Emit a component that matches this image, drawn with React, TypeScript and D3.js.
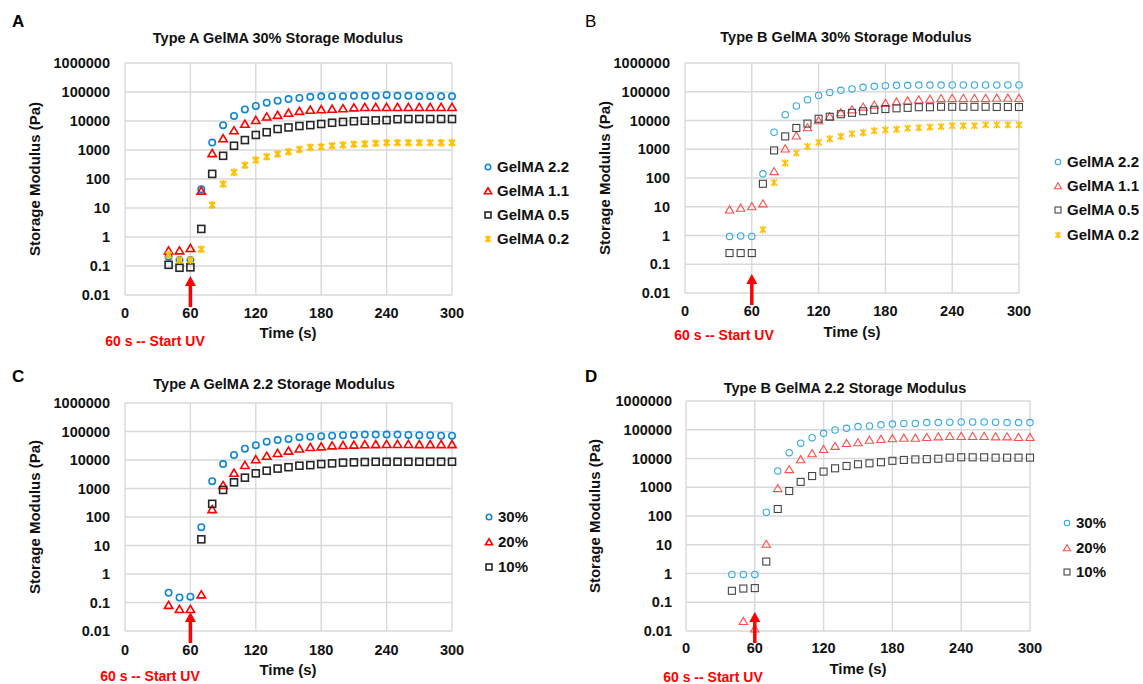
import * as d3 from 'd3';

// sampling times (s)
const times = [40, 50, 60, 70, 80, 90, 100, 110, 120, 130, 140, 150, 160, 170, 180, 190, 200, 210, 220, 230, 240, 250, 260, 270, 280, 290, 300];
const xTicks = [0, 60, 120, 180, 240, 300];
const yTicks = [0.01, 0.1, 1, 10, 100, 1000, 10000, 100000, 1000000];

const gelLabels = ['GelMA 2.2', 'GelMA 1.1', 'GelMA 0.5', 'GelMA 0.2'];
const pctLabels = ['30%', '20%', '10%'];

// A: Type A GelMA 30%
const aGel22 = [0.21, 0.16, 0.16, 44, 1800, 7200, 15000, 25000, 33000, 43000, 50000, 57000, 62000, 68000, 71000, 72000, 72000, 74000, 74000, 74000, 79000, 74000, 74000, 71000, 71000, 71000, 71000];
const aGel11 = [0.34, 0.34, 0.41, 39, 770, 2500, 4700, 7900, 10700, 14000, 16000, 19000, 22000, 24000, 25000, 26000, 27000, 29000, 30000, 30000, 30000, 30000, 30000, 30000, 30000, 30000, 30000];
const aGel05 = [0.11, 0.087, 0.09, 1.9, 150, 630, 1400, 2200, 3300, 4100, 5300, 6000, 6700, 7200, 7900, 8700, 9300, 9800, 10200, 10500, 10700, 11500, 11700, 11700, 11700, 11700, 11700];
const aGel02 = [0.24, 0.16, 0.16, 0.38, 12.6, 67, 170, 300, 450, 590, 730, 870, 1050, 1230, 1290, 1400, 1480, 1580, 1620, 1700, 1780, 1780, 1780, 1780, 1780, 1780, 1780];

// B: Type B GelMA 30%
const bGel22 = [0.93, 0.97, 0.93, 140, 3900, 16000, 32000, 53000, 74000, 95000, 112000, 125000, 142000, 154000, 162000, 167000, 167000, 170000, 170000, 170000, 172000, 172000, 172000, 172000, 172000, 172000, 172000];
const bGel11 = [7.9, 9.1, 10.3, 12.9, 170, 1050, 2960, 5700, 10000, 13800, 19000, 24000, 30000, 35000, 40000, 45000, 49000, 53000, 56000, 59000, 60000, 60000, 60000, 60000, 61000, 61000, 60000];
const bGel05 = [0.245, 0.245, 0.245, 63, 910, 2800, 5500, 7800, 11500, 13500, 16500, 18500, 21000, 23500, 25000, 26500, 27500, 29000, 29000, 30000, 30000, 30000, 30000, 30000, 29500, 29500, 29500];
const bGel02 = [null, null, null, 1.6, 69, 330, 740, 1250, 1740, 2300, 2800, 3450, 3800, 4400, 4700, 4900, 5400, 5600, 5900, 6200, 6600, 6600, 6600, 7100, 7100, 7100, 7100];

// C: Type A GelMA 2.2
const c30 = [0.22, 0.15, 0.16, 44, 1800, 7200, 15000, 25000, 33000, 44000, 50000, 55000, 63000, 66000, 68000, 71000, 74000, 76000, 78000, 78000, 78000, 78000, 76000, 74000, 74000, 71000, 71000];
const c20 = [0.081, 0.058, 0.058, 0.19, 186, 1300, 3500, 6600, 10500, 13800, 17400, 21000, 25000, 28000, 29500, 32000, 33000, 34000, 35000, 35500, 36000, 36000, 36000, 35500, 35500, 35500, 35500];
const c10 = [null, null, null, 16.5, 290, 890, 1650, 2400, 3400, 4200, 5000, 5600, 6300, 6600, 7200, 7600, 8100, 8300, 8500, 8700, 8700, 8700, 8700, 8700, 8700, 8700, 8700];

// D: Type B GelMA 2.2
const d30 = [0.93, 0.93, 0.93, 135, 3700, 16000, 34000, 53000, 75000, 98000, 112000, 129000, 135000, 148000, 158000, 166000, 166000, 178000, 178000, 182000, 186000, 186000, 186000, 182000, 178000, 178000, 178000];
const d20 = [null, 0.022, 0.012, 10.6, 920, 4200, 9300, 15000, 21000, 27000, 34000, 36000, 44000, 47000, 50000, 52000, 52000, 55000, 58000, 60000, 60000, 60000, 60000, 58000, 58000, 55000, 55000];
const d10 = [0.25, 0.3, 0.31, 2.6, 175, 740, 1540, 2450, 3500, 4550, 5500, 6300, 6800, 7400, 8300, 8900, 9300, 9500, 9800, 10700, 11000, 11000, 11000, 10700, 10700, 10700, 10700];

const FONT = '"Liberation Sans", Arial, sans-serif';
const shapes = ['circle', 'triangle', 'square', 'asterisk'];

const darkStyle = { colors: ['#0f86d3', '#ff0000', '#262626', '#ffc000'], sw: 1.6 };
const lightStyle = { colors: ['#35a9e0', '#ff4d4d', '#444444', '#ffc000'], sw: 1.1 };

const panels = [
  {
    letter: 'A', bold: true, title: 'Type A GelMA 30% Storage Modulus', titleX: 278, titleY: 43,
    box: { l: 125, r: 452, t: 63, b: 295 }, yTitleX: 35, tickRight: 110, xLabY: 318,
    timeX: 288, timeY: 338, uvX: 155, uvY: 346, letterX: 12, letterY: 27,
    legX: 488, legY: [167, 191, 215, 239], labels: gelLabels, series: [aGel22, aGel11, aGel05, aGel02], style: darkStyle,
  },
  {
    letter: 'B', bold: false, title: 'Type B GelMA 30% Storage Modulus', titleX: 846, titleY: 42,
    box: { l: 685, r: 1019, t: 63, b: 293 }, yTitleX: 605, tickRight: 670, xLabY: 316,
    timeX: 852, timeY: 337, uvX: 724, uvY: 340, letterX: 585, letterY: 27,
    legX: 1058, legY: [162, 186, 210, 235], labels: gelLabels, series: [bGel22, bGel11, bGel05, bGel02], style: lightStyle,
  },
  {
    letter: 'C', bold: true, title: 'Type A GelMA 2.2 Storage Modulus', titleX: 274, titleY: 389,
    box: { l: 125, r: 452, t: 403, b: 631 }, yTitleX: 35, tickRight: 110, xLabY: 655,
    timeX: 288, timeY: 675, uvX: 150, uvY: 681, letterX: 12, letterY: 382,
    legX: 489, legY: [517, 542, 567], labels: pctLabels, series: [c30, c20, c10], style: darkStyle,
  },
  {
    letter: 'D', bold: true, title: 'Type B GelMA 2.2 Storage Modulus', titleX: 845, titleY: 393,
    box: { l: 686, r: 1030, t: 401, b: 631 }, yTitleX: 595, tickRight: 672, xLabY: 653,
    timeX: 858, timeY: 674, uvX: 713, uvY: 682, letterX: 585, letterY: 382,
    legX: 1067, legY: [523, 548, 572], labels: pctLabels, series: [d30, d20, d10], style: lightStyle,
  },
];

function Marker({ shape, x, y, color, sw, s = 1 }) {
  if (shape === 'circle') {
    return <circle cx={x} cy={y} r={3.2 * s} fill="none" stroke={color} strokeWidth={sw} />;
  }
  if (shape === 'triangle') {
    const p = `M${x},${y - 3.8 * s}L${x + 4.2 * s},${y + 3.3 * s}L${x - 4.2 * s},${y + 3.3 * s}Z`;
    return <path d={p} fill="none" stroke={color} strokeWidth={sw} strokeLinejoin="miter" />;
  }
  if (shape === 'square') {
    const h = 3.5 * s;
    return <rect x={x - h} y={y - h} width={2 * h} height={2 * h} fill="none" stroke={color} strokeWidth={sw} />;
  }
  const r = 3.8 * s;
  const d = `M${x},${y - r}L${x},${y + r}M${x - r * 0.8},${y - r * 0.8}L${x + r * 0.8},${y + r * 0.8}M${x - r * 0.8},${y + r * 0.8}L${x + r * 0.8},${y - r * 0.8}`;
  return <path d={d} fill="none" stroke={color} strokeWidth={sw + 0.4} />;
}

function Panel({ p }) {
  const { box } = p;
  const x = d3.scaleLinear().domain([0, 300]).range([box.l, box.r]);
  const y = d3.scaleLog().domain([0.01, 1000000]).range([box.b, box.t]);
  const ax = x(60);
  const tipY = box.b - 19;
  const endY = box.b + 12;
  return (
    <g fontFamily={FONT}>
      <text x={p.letterX} y={p.letterY} fontSize={17} fontWeight={p.bold ? 'bold' : 'normal'} fill="#000">{p.letter}</text>
      <text x={p.titleX} y={p.titleY} textAnchor="middle" fontSize={14.5} fontWeight="bold" fill="#111">{p.title}</text>
      {xTicks.map(t => (
        <line key={'gx' + t} x1={x(t)} x2={x(t)} y1={box.t} y2={box.b} stroke="#d9d9d9" strokeWidth={1.4} />
      ))}
      {yTicks.map(t => (
        <line key={'gy' + t} x1={box.l} x2={box.r} y1={y(t)} y2={y(t)} stroke="#d9d9d9" strokeWidth={1.4} />
      ))}
      {yTicks.map(t => (
        <text key={'ty' + t} x={p.tickRight} y={y(t)} dy="0.36em" textAnchor="end" fontSize={14.5} fontWeight="bold" fill="#111">{String(t)}</text>
      ))}
      {xTicks.map(t => (
        <text key={'tx' + t} x={x(t)} y={p.xLabY} textAnchor="middle" fontSize={14.5} fontWeight="bold" fill="#111">{t}</text>
      ))}
      <text transform={`translate(${p.yTitleX},${(box.t + box.b) / 2}) rotate(-90)`} textAnchor="middle" dy="0.36em" fontSize={15} fontWeight="bold" fill="#111">Storage Modulus (Pa)</text>
      <text x={p.timeX} y={p.timeY} textAnchor="middle" fontSize={15} fontWeight="bold" fill="#111">Time (s)</text>
      <text x={p.uvX} y={p.uvY} textAnchor="middle" fontSize={14} fontWeight="bold" fill="#ff0000">60 s -- Start UV</text>
      {p.series.map((vals, si) => (
        <g key={'s' + si}>
          {vals.map((v, i) => v == null ? null : (
            <Marker key={i} shape={shapes[si]} x={x(times[i])} y={y(v)} color={p.style.colors[si]} sw={p.style.sw} />
          ))}
        </g>
      ))}
      <line x1={ax} x2={ax} y1={tipY + 8} y2={endY} stroke="#ff0000" strokeWidth={3.5} />
      <path d={`M${ax},${tipY}L${ax + 5.5},${tipY + 10}L${ax - 5.5},${tipY + 10}Z`} fill="#ff0000" />
      {p.labels.map((lab, i) => (
        <g key={'l' + i}>
          <Marker shape={shapes[i]} x={p.legX} y={p.legY[i]} color={p.style.colors[i]} sw={p.style.sw} s={0.85} />
          <text x={p.legX + 9} y={p.legY[i]} dy="0.36em" fontSize={15} fontWeight="bold" fill="#111">{lab}</text>
        </g>
      ))}
    </g>
  );
}

export default function App() {
  return (
    <div style={{ position: 'absolute', left: 0, top: 0 }}>
      <svg width={1143} height={684} style={{ display: 'block', background: '#fff' }}>
        {panels.map(p => <Panel key={p.letter} p={p} />)}
      </svg>
    </div>
  );
}
